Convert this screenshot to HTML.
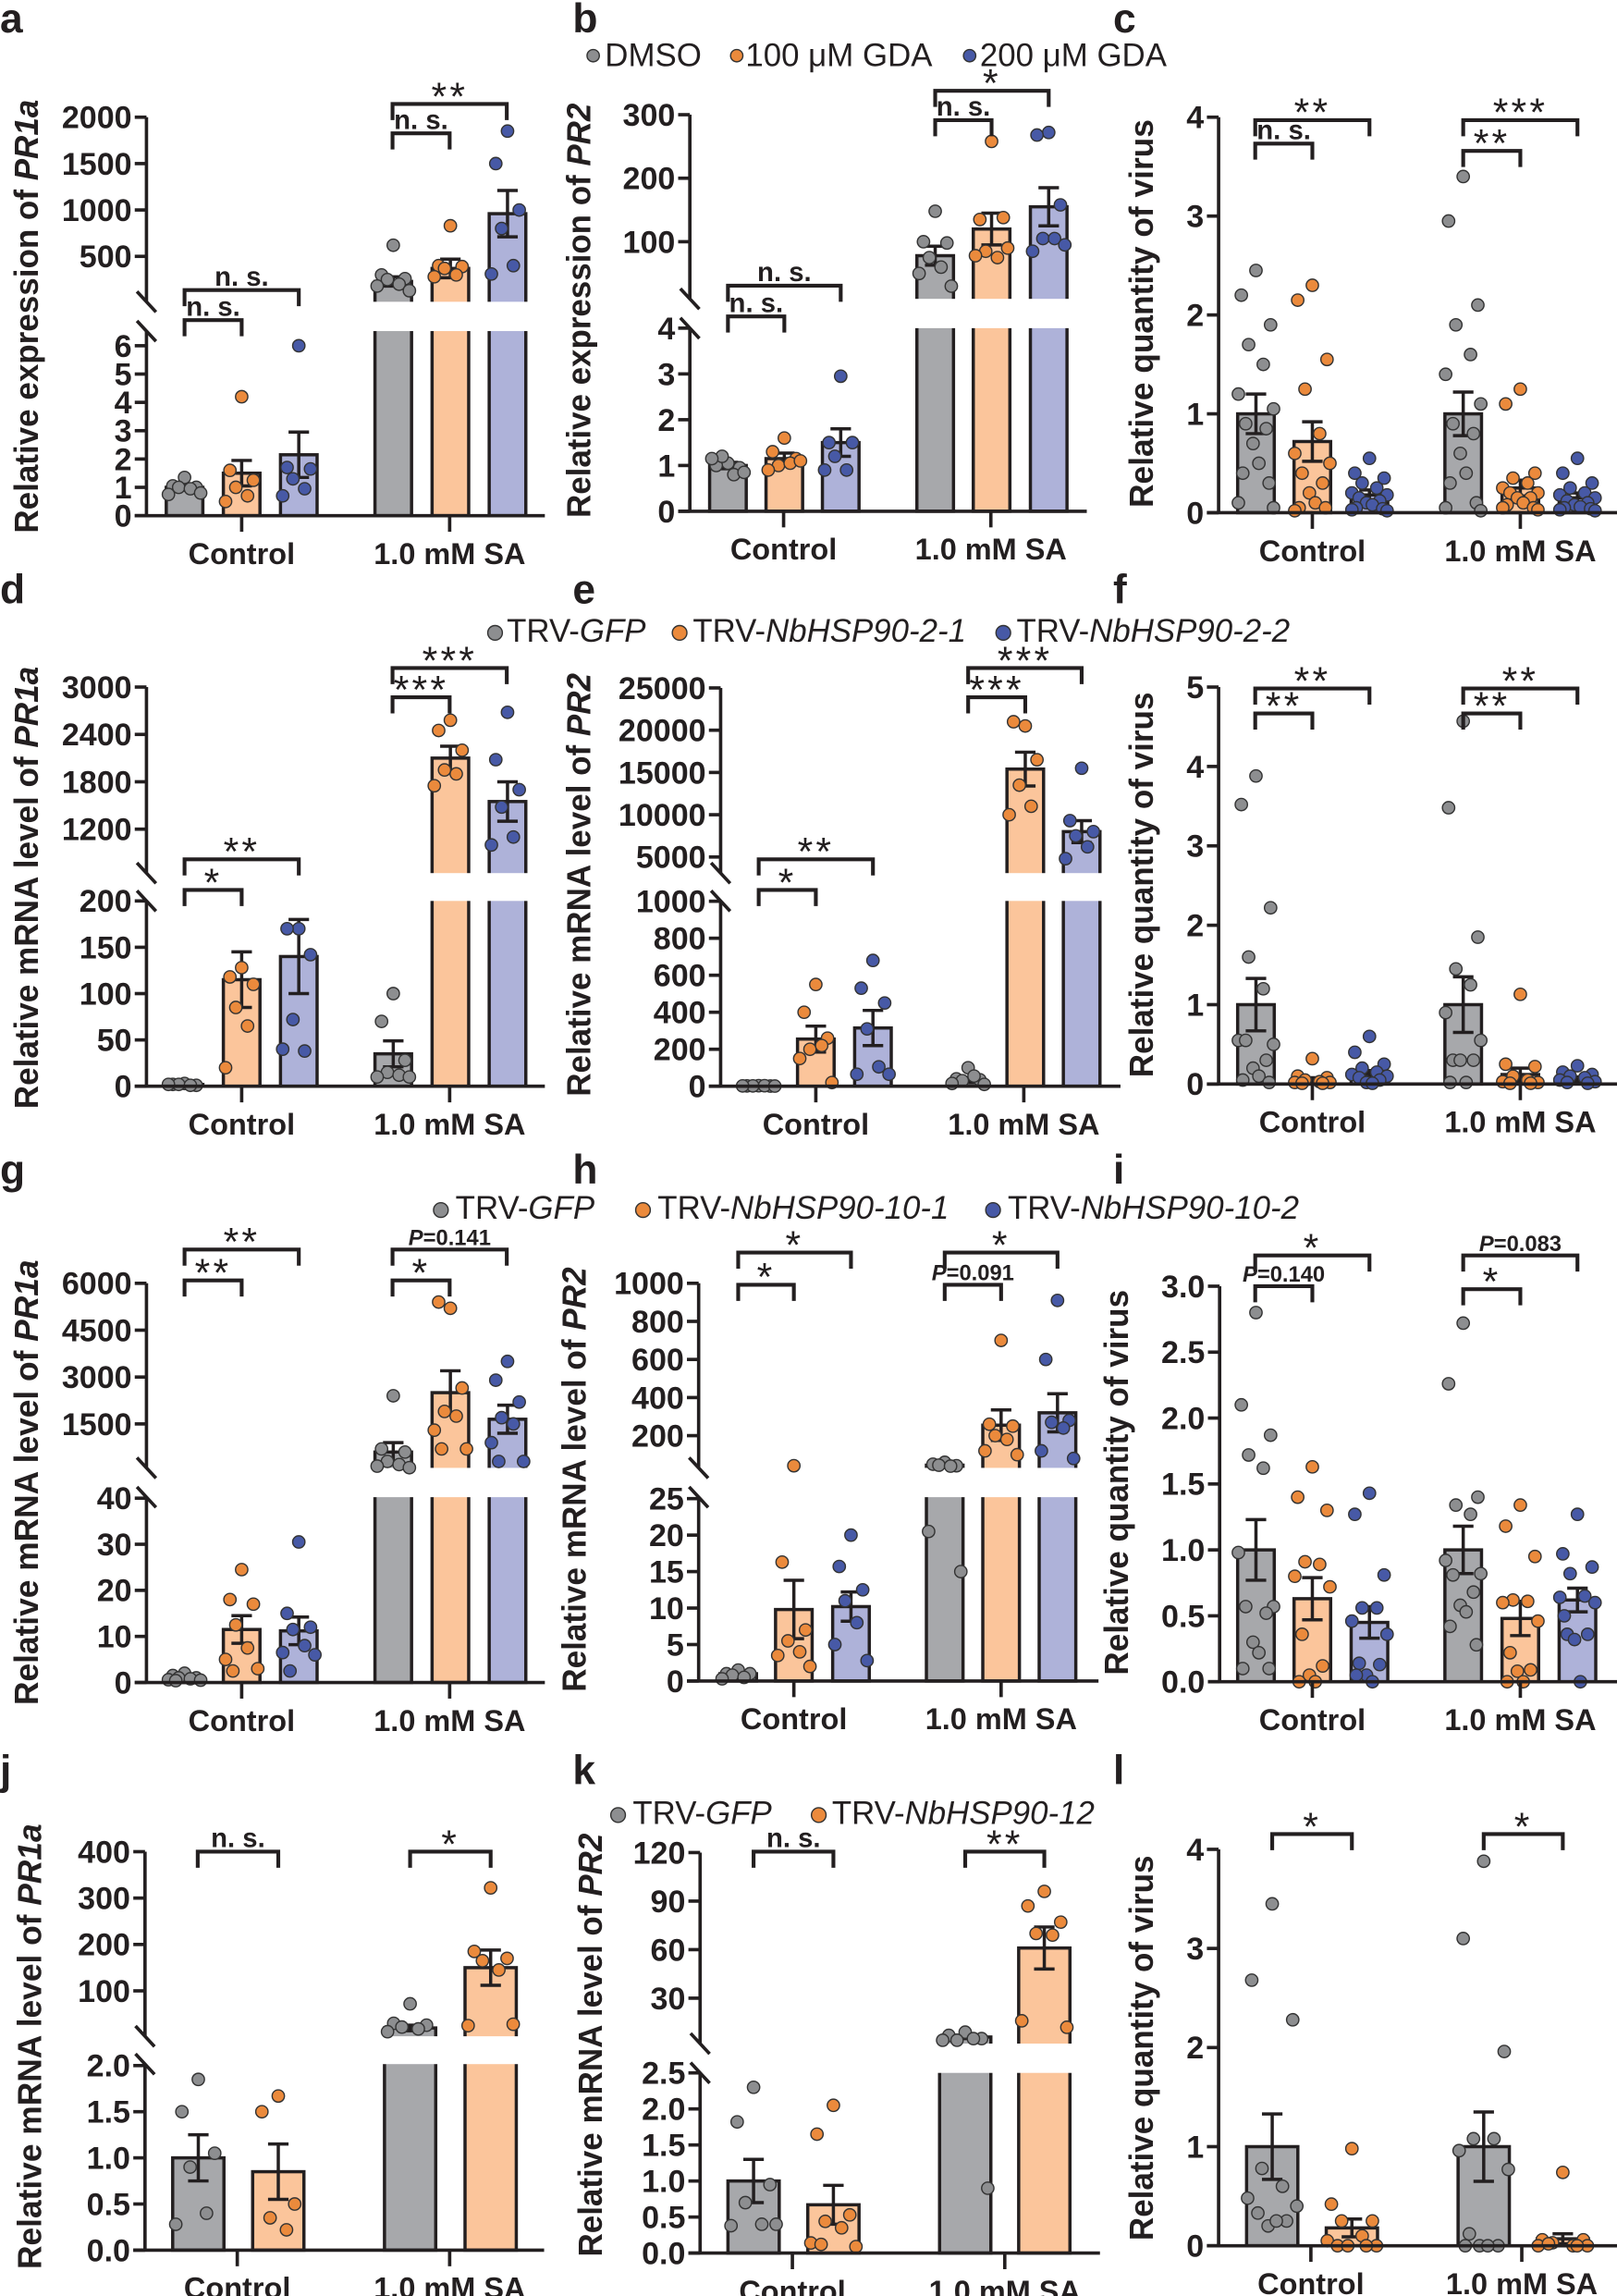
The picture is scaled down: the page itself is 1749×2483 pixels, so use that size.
<!DOCTYPE html>
<html><head><meta charset="utf-8">
<style>
html,body{margin:0;padding:0;background:#fff;}
svg{display:block;}
text{font-family:"Liberation Sans",Arial,sans-serif;fill:#231f20;}
</style></head>
<body>
<svg id="s" xmlns="http://www.w3.org/2000/svg" width="1749" height="2483" viewBox="0 0 1104 1567.3" preserveAspectRatio="none"></svg>
<script>
const S=document.getElementById('s');const NS='http://www.w3.org/2000/svg';
function el(t,a,p){const e=document.createElementNS(NS,t);for(const k in a)e.setAttribute(k,a[k]);(p||S).appendChild(e);return e;}
function txt(x,y,parts,a){const t=el('text',Object.assign({x:x,y:y},a||{}));parts.forEach(p=>{const s=el('tspan',p[1]?{'font-style':'italic'}:{},t);s.textContent=p[0];});return t;}
const FILL=['#a7a8ab','#fbc59b','#aeb2d9'],DOT=['#8d8e90','#eb8a3c','#4759a6'],K='#231f20';
function panel(p){
  const segs=p.segs;const w=p.w||25;
  function segY(s,v){return s.y0+(v-s.v0)*(s.y1-s.y0)/(s.v1-s.v0);}
  function Y(v){if(segs.length==1)return segY(segs[0],v);const lo=segs[0];const vmax=lo.v0+(p.gap[1]-lo.y0)*(lo.v1-lo.v0)/(lo.y1-lo.y0);if(v<=vmax)return segY(lo,v);return segY(segs[1],v);}
  p.bars.forEach(b=>{const yt=Y(b.v);el('rect',{x:b.x-w/2,y:yt,width:w,height:Math.max(0,p.yb-yt),fill:FILL[b.c],stroke:K,'stroke-width':2.2});});
  if(p.gap){el('rect',{x:p.ax-12,y:p.gap[0],width:p.xe-p.ax+14,height:p.gap[1]-p.gap[0],fill:'#fff'});}
  p.bars.forEach(b=>{const a=Y(b.v+b.e),c=Y(Math.max(0,b.v-b.e));el('path',{d:`M${b.x} ${a}V${c}M${b.x-7} ${a}H${b.x+7}M${b.x-7} ${c}H${b.x+7}`,stroke:K,'stroke-width':2.2,fill:'none'});});
  const pat=p.pat||[0,-8,8,-4,4,-11,11,-6,6,-2,2,-9,9,-13,13];
  p.bars.forEach(b=>{b.d.forEach((v,i)=>{el('circle',{cx:b.x+pat[i%pat.length]*(w/25),cy:Y(v),r:4.2,fill:DOT[b.c],stroke:'#333','stroke-width':0.9});});});
  const topY=segs[segs.length-1].y1;
  if(p.gap){el('path',{d:`M${p.ax} ${topY}V${p.gap[0]}M${p.ax} ${p.gap[1]}V${p.yb}`,stroke:K,'stroke-width':2.3,fill:'none'});
    el('path',{d:`M${p.ax-6.5} ${p.gap[0]-7}L${p.ax+6.5} ${p.gap[0]+7}M${p.ax-6.5} ${p.gap[1]-7}L${p.ax+6.5} ${p.gap[1]+7}`,stroke:K,'stroke-width':2.3});}
  else el('path',{d:`M${p.ax} ${topY}V${p.yb}`,stroke:K,'stroke-width':2.3});
  el('path',{d:`M${p.ax-8} ${p.yb}H${p.xe}`,stroke:K,'stroke-width':2.3});
  segs.forEach(s=>{s.t.forEach(v=>{const y=segY(s,v);el('path',{d:`M${p.ax-8} ${y}H${p.ax}`,stroke:K,'stroke-width':2.3});txt(p.ax-10,y+7.5,[[s.dec?v.toFixed(s.dec):String(v)]],{'font-size':21.5,'font-weight':'bold','text-anchor':'end'});});});
  p.gt.forEach((x,i)=>{el('path',{d:`M${x} ${p.yb}V${p.yb+11}`,stroke:K,'stroke-width':2.3});txt(x,p.yb+33,[[i?'1.0 mM SA':'Control']],{'font-size':20.5,'font-weight':'bold','text-anchor':'middle'});});
  p.br.forEach(b=>{const [x1,x2,y,t]=b;el('path',{d:`M${x1} ${y+11}V${y}H${x2}V${y+11}`,stroke:K,'stroke-width':2.6,fill:'none'});const cx=(x1+x2)/2;
    if(t=='n. s.')txt(cx,y-3,[[t]],{'font-size':18.5,'font-weight':'bold','text-anchor':'middle'});
    else if(t[0]=='P')txt(cx,y-3,[['P',1],[t.slice(1)]],{'font-size':15,'font-weight':'bold','text-anchor':'middle'});
    else txt(cx,y+4,[[t]],{'font-size':27,'text-anchor':'middle','letter-spacing':'2'});});
  txt(0,0,p.title,{'font-size':23,'font-weight':'bold','text-anchor':'middle',transform:`translate(${p.tx+8},${p.ty}) rotate(-90)`,textLength:p.tl,lengthAdjust:'spacingAndGlyphs'});
  txt(p.lx,p.ly,[[p.L]],{'font-size':28,'font-weight':'bold'});
}
const A=[126,165,204,268.5,307.5,346.5],V=[857.5,896,935,999,1038,1077];
function B(xs,vals,ws){return vals.map((q,i)=>({x:xs[i],v:q[0],e:q[1],c:ws?ws[i]:i%3,d:q[2]}));}
function rng(a,b,s){const r=[];for(let v=a;v<=b+1e-9;v+=s)r.push(Math.round(v*100)/100);return r;}
panel({L:'a',lx:0,ly:22,ax:100,xe:372,yb:352,gap:[206,226],segs:[{v0:0,y0:352,v1:6,y1:236,t:rng(0,6,1)},{v0:500,y0:175,v1:2000,y1:80,t:[500,1000,1500,2000]}],
 bars:B(A,[[1,0.1,[1.35,1.05,1,1,0.95,0.75,0.8]],[1.5,0.45,[4.2,1.6,1.25,1.0,0.7,0.5]],[2.15,0.8,[6,1.7,1.65,1.3,0.95,0.7]],[230,50,[620,300,260,250,200,180,130]],[370,100,[830,400,390,370,300,280]],[960,250,[1850,1500,1000,800,400,310]]]),
 gt:[165,307],br:[[126,165,218.5,'n. s.'],[126,204,198,'n. s.'],[268,307,91,'n. s.'],[268,346,71,'**']],title:[['Relative expression of '],['PR1a',1]],tx:18,ty:216,tl:296});
panel({L:'b',lx:391,ly:22,ax:471,xe:742,yb:349,gap:[204,224],segs:[{v0:0,y0:349,v1:4,y1:224,t:rng(0,4,1)},{v0:100,y0:165,v1:300,y1:78.3,t:[100,200,300]}],
 bars:B([497,535.5,574,638.5,677,716],[[1,0.07,[1.05,1.0,0.95,1.2,0.8,1.15,0.85]],[1.15,0.12,[1.6,1.3,1.15,1.0,1.05,0.9,1.1]],[1.5,0.3,[2.95,1.5,1.5,1.2,0.9,0.9]],[78,15,[148,100,98,75,60,50,30]],[120,25,[258,135,138,85,75,78,90]],[155,30,[272,268,158,105,105,85,95]]]),
 gt:[535,676.5],br:[[497,535.5,216,'n. s.'],[497,574,195,'n. s.'],[638.5,677,82,'n. s.'],[638.5,716,62,'*']],title:[['Relative expression of '],['PR2',1]],tx:395,ty:212,tl:283});
panel({L:'c',lx:760,ly:22,ax:832,xe:1104,yb:350,segs:[{v0:0,y0:350,v1:4,y1:80,t:rng(0,4,1)}],pat:[0,-10,10,-5,5,-12,12,-7,7,-2,2,-9,9,-12,12],
 bars:B(V,[[1,0.2,[2.45,2.2,1.9,1.7,1.5,1.2,1.05,0.9,0.85,0.7,0.5,0.4,0.3,0.1,0.05]],[0.72,0.2,[2.3,2.15,1.55,1.25,0.8,0.6,0.5,0.4,0.3,0.2,0.1,0.05,0.05,0.02]],[0.18,0.05,[0.55,0.4,0.35,0.3,0.25,0.2,0.18,0.15,0.12,0.1,0.08,0.05,0.04,0.03,0.02]],[1,0.22,[3.4,2.95,2.1,1.9,1.6,1.4,1.1,0.9,0.8,0.6,0.4,0.3,0.1,0.05,0.02]],[0.25,0.08,[1.25,1.1,0.4,0.35,0.3,0.25,0.2,0.2,0.15,0.15,0.1,0.08,0.05,0.05,0.03]],[0.15,0.05,[0.55,0.4,0.3,0.25,0.2,0.18,0.15,0.12,0.1,0.08,0.06,0.05,0.04,0.03,0.02]]]),
 gt:[896,1038],br:[[857,896,98,'n. s.'],[857,935,82,'**'],[999,1038,103,'**'],[999,1077,82,'***']],title:[['Relative quantity of virus']],tx:779,ty:214,tl:265});
panel({L:'d',lx:0,ly:412,ax:100,xe:372,yb:741.5,gap:[596,615],segs:[{v0:0,y0:741.5,v1:200,y1:615,t:[0,50,100,150,200]},{v0:1200,y0:566,v1:3000,y1:469,t:[1200,1800,2400,3000]}],
 bars:B(A,[[2,1,[3,2,1,2,1,2]],[115,30,[128,118,110,85,65,20]],[140,40,[170,170,142,72,38,40]],[35,14,[100,70,28,15,12,10,10]],[2100,150,[2580,2450,2200,1950,1900,1750]],[1550,250,[2680,2080,1700,1480,1100,1000]]]),
 gt:[165,307],br:[[126,165,607.5,'*'],[126,204,586.6,'**'],[268,307,476,'***'],[268,346,456,'***']],title:[['Relative mRNA level of '],['PR1a',1]],tx:18,ty:606,tl:302});
panel({L:'e',lx:391,ly:412,ax:492,xe:765,yb:741.5,gap:[596,615],segs:[{v0:0,y0:741.5,v1:1000,y1:615.2,t:[0,200,400,600,800,1000]},{v0:5000,y0:585,v1:25000,y1:469.6,t:[5000,10000,15000,20000,25000]}],
 bars:B([518,557,596,661,700,738.5],[[2,1,[3,2,1,2,3,2,1]],[255,70,[550,400,260,200,220,150,20]],[315,95,[680,530,450,310,105,65,65]],[30,10,[100,40,35,30,55,15,10]],[15400,2000,[20500,21000,16500,13500,11000,10000]],[8000,1300,[15500,9300,8000,7500,6200,4800]]]),
 gt:[557,699],br:[[518,557,607.5,'*'],[518,596,586.6,'**'],[661,700,476,'***'],[661,738.5,456,'***']],title:[['Relative mRNA level of '],['PR2',1]],tx:395,ty:604,tl:289});
panel({L:'f',lx:760,ly:412,ax:832,xe:1104,yb:740,segs:[{v0:0,y0:740,v1:5,y1:469,t:rng(0,5,1)}],pat:[0,-10,10,-5,5,-12,12,-7,7,-2,2,-9,9,-12,12],
 bars:B(V,[[1,0.33,[3.88,3.52,2.22,1.6,1.2,0.55,0.5,0.55,0.3,0.2,0.1,0.05,0.02]],[0.05,0.03,[0.32,0.1,0.08,0.05,0.03,0.02,0.02,0.01,0.01]],[0.13,0.04,[0.6,0.4,0.25,0.2,0.15,0.12,0.1,0.08,0.05,0.02,0.01]],[1,0.35,[4.57,3.48,1.85,1.45,1.25,0.9,0.55,0.3,0.3,0.3,0.02,0.02]],[0.12,0.08,[1.13,0.25,0.22,0.1,0.05,0.03,0.02,0.01,0.01]],[0.06,0.03,[0.23,0.15,0.12,0.1,0.08,0.05,0.03,0.02,0.01]]]),
 gt:[896,1038],br:[[857,896,487,'**'],[857,935,470,'**'],[999,1038,487,'**'],[999,1077,470,'**']],title:[['Relative quantity of virus']],tx:779,ty:604,tl:263});
panel({L:'g',lx:0,ly:808,ax:100,xe:372,yb:1148.5,gap:[1002,1022],segs:[{v0:0,y0:1148.5,v1:40,y1:1022.7,t:[0,10,20,30,40]},{v0:1500,y0:972,v1:6000,y1:876,t:[1500,3000,4500,6000]}],
 bars:B(A,[[1,0.3,[2,1.5,1,1,0.8,0.6,0.5,0.4]],[11.5,3,[24.5,18,17,12.5,7.5,5,3,2.5]],[11.2,3,[30.5,15,12,11.5,8,6.5,6,2.5]],[600,300,[2400,700,600,300,200,150,100]],[2500,700,[5200,5400,2650,1900,1750,1300,700,700]],[1650,450,[3500,2900,2200,1700,1500,900,300,300]]]),
 gt:[165,307],br:[[126,165,874,'**'],[126,204,853,'**'],[268,307,874,'*'],[268,346,853,'P=0.141']],title:[['Relative mRNA level of '],['PR1a',1]],tx:18,ty:1012,tl:304});
panel({L:'h',lx:391,ly:808,ax:477,xe:750,yb:1147.5,gap:[1002,1022],segs:[{v0:0,y0:1147.5,v1:25,y1:1023,t:[0,5,10,15,20,25]},{v0:200,y0:980,v1:1000,y1:876,t:[200,400,600,800,1000]}],
 bars:B([504,542,581,645,683.5,722],[[1,0.3,[1.5,1,1,0.8,0.5,0.3]],[9.8,4,[42,16.3,7,5.5,4,3.5,2]],[10.2,2,[20,15.7,12.5,11,8,5,2.8]],[45,5,[60,50,42,45,40,20.5,15]],[255,80,[700,260,250,200,180,120,100]],[320,100,[910,600,280,270,240,120,80]]]),
 gt:[542,683.5],br:[[504,542,877,'*'],[504,581,855,'*'],[645,683.5,877,'P=0.091'],[645,722,855,'*']],title:[['Relative mRNA level of '],['PR2',1]],tx:392,ty:1010,tl:290});
panel({L:'i',lx:760,ly:808,ax:832.7,xe:1104,yb:1148,segs:[{v0:0,y0:1148,v1:3,y1:878,t:rng(0,3,0.5),dec:1}],pat:[0,-10,10,-5,5,-12,12,-7,7,-2,2,-9,9,-12,12],
 bars:B(V,[[1,0.23,[2.8,2.1,1.87,1.72,1.62,0.98,0.57,0.57,0.52,0.3,0.22,0.1,0.1]],[0.63,0.16,[1.63,1.4,1.3,0.91,0.89,0.8,0.72,0.36,0.12,0.05,0,0]],[0.45,0.12,[1.43,1.27,0.81,0.56,0.56,0.46,0.36,0.14,0.13,0.05,0,0.05]],[1,0.18,[2.72,2.26,1.4,1.34,1.27,0.92,0.82,0.81,0.68,0.58,0.53,0.42,0.28]],[0.48,0.13,[1.34,1.18,0.95,0.62,0.61,0.6,0.46,0.22,0.09,0.08,0,0]],[0.62,0.09,[1.27,0.97,0.87,0.82,0.65,0.64,0.6,0.36,0.36,0.32,0,0.5]]]),
 gt:[896,1038],br:[[857,896,878,'P=0.140'],[857,935,857,'*'],[999,1038,880,'*'],[999,1077,857,'P=0.083']],title:[['Relative quantity of virus']],tx:762,ty:1012,tl:263});
panel({L:'j',lx:0,ly:1218,ax:99,xe:371.5,yb:1536,w:35,gap:[1390,1409],segs:[{v0:0,y0:1536,v1:2,y1:1410,t:[0,0.5,1,1.5,2],dec:1},{v0:100,y0:1359,v1:400,y1:1264,t:[100,200,300,400]}],
 bars:B([135.4,190,280,335],[[1,0.25,[1.85,1.5,1.05,0.9,0.4,0.28]],[0.85,0.3,[1.67,1.5,0.5,0.35,0.22]],[20,6,[72,30,26,22,18,12]],[150,38,[322,185,170,165,145,25,28]]],[0,1,0,1]),
 gt:[162,307],br:[[135,190,1264,'n. s.'],[280,335,1264,'*']],title:[['Relative mRNA level of '],['PR1a',1]],tx:20,ty:1397,tl:304});
panel({L:'k',lx:391,ly:1218,ax:478,xe:751,yb:1538,w:35,gap:[1395,1415],segs:[{v0:0,y0:1538,v1:2.5,y1:1415,t:[0,0.5,1,1.5,2,2.5],dec:1},{v0:30,y0:1364,v1:120,y1:1264.6,t:[30,60,90,120]}],
 bars:B([514.5,569,659,713],[[1,0.3,[2.3,1.82,0.95,0.7,0.4,0.38,0.4]],[0.67,0.27,[2.05,1.65,0.53,0.44,0.35,0.14,0.09,0.12]],[6,1,[9,7,5,4,5,4,0.9]],[61,13,[96,87,77,70,69,16,12]]],[0,1,0,1]),
 gt:[541,686],br:[[514.5,569,1264,'n. s.'],[659,713,1264,'**']],title:[['Relative mRNA level of '],['PR2',1]],tx:403,ty:1396,tl:289});
panel({L:'l',lx:760,ly:1218,ax:832,xe:1104,yb:1533,w:35,segs:[{v0:0,y0:1533,v1:4,y1:1262.4,t:rng(0,4,1)}],pat:[0,-10,10,-5,5,-12,12,-7,7,-2,2,-9,9,-12,12],
 bars:B([868.6,923,1013,1067],[[1,0.33,[3.45,2.68,2.28,0.78,0.6,0.48,0.4,0.33,0.25,0.2,0.25]],[0.18,0.09,[0.98,0.42,0.25,0.25,0.1,0.05,0,0,0,0]],[1,0.35,[3.88,3.1,1.96,1.08,1.08,0.96,0.77,0.12,0,0,0,0]],[0.07,0.05,[0.74,0.06,0.06,0.03,0,0,0,0.02,0]]],[0,1,0,1]),
 gt:[895,1039],br:[[868.6,923,1252,'*'],[1013,1067,1252,'*']],title:[['Relative quantity of virus']],tx:779,ty:1398,tl:263});
function leg(items,y,dy,fs){items.forEach(it=>{el('circle',{cx:it[0],cy:y-dy,r:it[3]||5,fill:DOT[it[2]],stroke:'#333','stroke-width':0.9});txt(it[1],y,it[4],{'font-size':fs});});}
leg([[405,413,0,4.2,[['DMSO']]],[503,509,1,4.2,[['100 μM GDA']]],[662,669,2,4.2,[['200 μM GDA']]]],45,7,22);
leg([[338,346,0,5,[['TRV-'],['GFP',1]]],[464,473,1,5,[['TRV-'],['NbHSP90-2-1',1]]],[685,694,2,5,[['TRV-'],['NbHSP90-2-2',1]]]],438,6,22);
leg([[301,311,0,5,[['TRV-'],['GFP',1]]],[439,449,1,5,[['TRV-'],['NbHSP90-10-1',1]]],[678,688,2,5,[['TRV-'],['NbHSP90-10-2',1]]]],832,6,22);
leg([[422,432,0,5,[['TRV-'],['GFP',1]]],[559,568,1,5,[['TRV-'],['NbHSP90-12',1]]]],1245,6,22);
</script>
</body></html>
